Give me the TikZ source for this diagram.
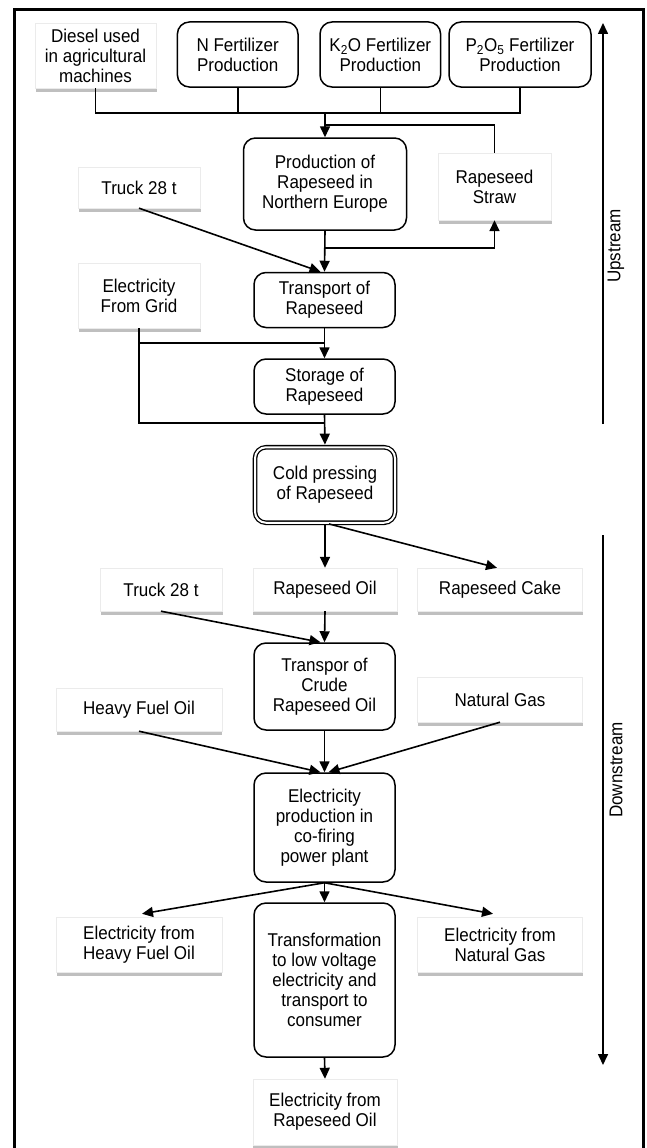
\documentclass[tikz,border=0pt]{standalone}
\usepackage{fontspec}
\setmainfont[FakeStretch=0.92]{Liberation Sans}
\usetikzlibrary{arrows.meta,shadows}
\begin{document}
\begin{tikzpicture}[x=1pt,y=-1pt,
  font=\fontsize{18.5}{20}\selectfont,
  sz/.style 2 args={minimum width=#1pt,minimum height=#2pt},
  rbox/.style={draw,rounded corners=12pt,line width=1.5pt,fill=white,align=center,inner sep=0pt},
  dbox/.style={draw,rounded corners=11pt,line width=1.3pt,double,double distance=2pt,fill=white,align=center,inner sep=0pt},
  sbox/.style={draw=black!8,fill=white,align=center,inner sep=0pt,
    drop shadow={shadow xshift=0.5pt,shadow yshift=-3.5pt,opacity=0.5,fill=black!50}},
  ln/.style={line width=1.6pt},
  arr/.style={line width=1.6pt,-{Triangle[length=11pt,width=10pt]}},
  frame/.style={line width=3pt}]
\useasboundingbox (0,0) rectangle (647,1148);

% frame
\coordinate (fa) at (14.4,1148);
\coordinate (fb) at (14.4,10);
\coordinate (fc) at (643,10);
\coordinate (fd) at (643,1148);
\draw[frame] (fa) -- (fb) -- (fc) -- (fd);

% upstream nodes
\node[sbox,sz={121}{65}] (diesel) at (95.5,55.5) {Diesel used\\in agricultural\\machines};
\node[rbox,sz={120.6}{65}] (nfert) at (237.7,54.5) {N Fertilizer\\Production};
\node[rbox,sz={120.6}{65}] (kfert) at (380.3,54.5) {K\textsubscript{2}O Fertilizer\\Production};
\node[rbox,sz={142}{65}] (pfert) at (520,54.5) {P\textsubscript{2}O\textsubscript{5} Fertilizer\\Production};
\node[rbox,sz={163}{92}] (prod) at (325,184) {Production of\\Rapeseed in\\Northern Europe};
\node[sbox,sz={113}{67}] (straw) at (494.5,186.5) {Rapeseed\\Straw};
\node[sbox,sz={122}{41}] (truckA) at (139,187.5) {Truck 28 t};
\node[rbox,sz={141}{55}] (transp) at (324.5,300) {Transport of\\Rapeseed};
\node[sbox,sz={122}{65}] (grid) at (139,295.5) {Electricity\\From Grid};
\node[rbox,sz={141}{55}] (stor) at (324.5,386.5) {Storage of\\Rapeseed};
\node[dbox,sz={140}{75.5}] (cold) at (325,485) {Cold pressing\\of Rapeseed};

% downstream nodes
\node[sbox,sz={122}{43}] (truckB) at (161,589.5) {Truck 28 t};
\node[sbox,sz={144.5}{43}] (oil) at (325,589.5) {Rapeseed Oil};
\node[sbox,sz={165}{43}] (cake) at (500,589.5) {Rapeseed Cake};
\node[rbox,sz={141}{87}] (crude) at (324.5,686.5) {Transpor of\\Crude\\Rapeseed Oil};
\node[sbox,sz={165.5}{43}] (hfo) at (139,709.5) {Heavy Fuel Oil};
\node[sbox,sz={165}{45}] (ng) at (500,699.5) {Natural Gas};
\node[rbox,sz={141}{109}] (elec) at (324.5,827.5) {Electricity\\production in\\co-firing\\power plant};
\node[sbox,sz={165.5}{55}] (ehfo) at (139,944.5) {Electricity from\\Heavy Fuel Oil};
\node[rbox,sz={141}{154}] (trans) at (324.5,980) {Transformation\\to low voltage\\electricity and\\transport to\\consumer};
\node[sbox,sz={165}{55}] (eng) at (500,944.5) {Electricity from\\Natural Gas};
\node[sbox,sz={144.5}{66}] (ero) at (325,1112) {Electricity from\\Rapeseed Oil};

% connectors upstream
\coordinate (bus) at (325,113);
\draw[ln] (diesel.south) |- (bus) -| (pfert.south);
\draw[ln] (nfert.south) -- (nfert.south |- bus);
\draw[ln] (kfert.south) -- (kfert.south |- bus);
\draw[arr] (bus) -- (prod.north);
\coordinate (loop) at (325,125);
\draw[ln] (straw.north) |- (loop);
\draw[arr] (prod.south) -- (transp.north);
\coordinate (br) at (325,248);
\draw[arr] (br) -| (straw.south);
\draw[arr] (truckA.south) -- ([xshift=-4pt]transp.north);
\coordinate (g1) at (325,343);
\coordinate (g2) at (325,423);
\draw[ln] (grid.south) |- (g2);
\draw[ln] (grid.south |- g1) -- (g1);
\draw[arr] (transp.south) -- (stor.north);
\draw[arr,shorten >=2pt] (stor.south) -- (cold.north);

% connectors downstream
\draw[arr,shorten <=2pt] (cold.south) -- (oil.north);
\draw[arr,shorten <=2pt] ([xshift=2pt]cold.south) -- ([xshift=-3pt]cake.north);
\draw[arr] (oil.south) -- (crude.north);
\draw[arr] (truckB.south) -- ([xshift=-4pt]crude.north);
\draw[arr] (crude.south) -- (elec.north);
\draw[arr] (hfo.south) -- ([xshift=-4pt]elec.north);
\draw[arr] (ng.south) -- ([xshift=4pt]elec.north);
\draw[arr] (elec.south) -- ([xshift=3pt,yshift=3pt]ehfo.north);
\draw[arr] (elec.south) -- (trans.north);
\draw[arr] (elec.south) -- ([xshift=-7pt,yshift=3pt]eng.north);
\draw[arr] (trans.south) -- (ero.north);

% stage arrows
\coordinate (ua) at (603,424);
\coordinate (ub) at (603,23);
\draw[arr] (ua) -- (ub);
\node[rotate=90] (uplab) at (616,246) {Upstream};
\coordinate (da) at (603,535);
\coordinate (db) at (603,1065);
\draw[arr] (da) -- (db);
\node[rotate=90] (downlab) at (616,770) {Downstream};
\end{tikzpicture}
\end{document}
